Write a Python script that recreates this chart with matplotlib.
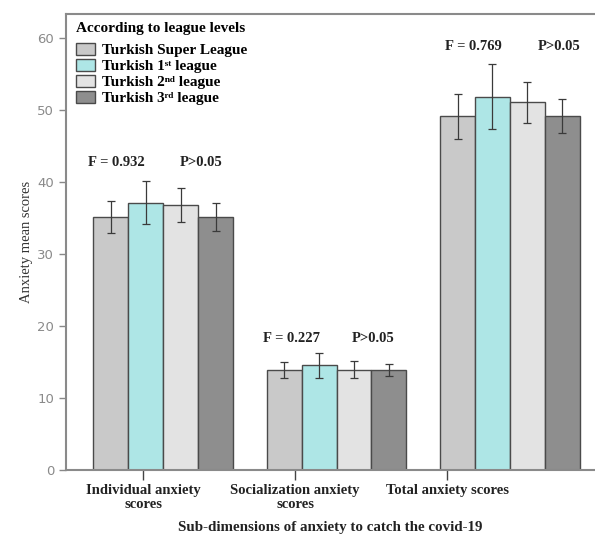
import matplotlib
matplotlib.use("Agg")
import matplotlib.pyplot as plt
import numpy as np

categories = ["Individual anxiety\nscores", "Socialization anxiety\nscores", "Total anxiety scores"]
series_names = ["Turkish Super League", "Turkish 1ˢᵗ league",
                "Turkish 2ⁿᵈ league", "Turkish 3ʳᵈ league"]
means = {
    "super": [35.1, 13.9, 49.1],
    "first": [37.1, 14.5, 51.8],
    "second": [36.8, 13.9, 51.0],
    "third": [35.1, 13.9, 49.1],
}
errors = {
    "super": [2.2, 1.1, 3.1],
    "first": [3.0, 1.7, 4.5],
    "second": [2.4, 1.2, 2.9],
    "third": [1.9, 0.8, 2.4],
}
f_values = ["0.932", "0.227", "0.769"]
p_texts = ["P>0.05", "P>0.05", "P>0.05"]
y_ticks = [0, 10, 20, 30, 40, 50, 60]

# layout (positions of labels relative to the groups, as in the original)
tick_shift = [-0.115, -0.239, -0.363]
f_shift = [-0.432, -0.424, -0.375]
p_shift = [0.098, 0.089, 0.161]
text_gap = [2.6, 2.0, 2.5]

serif = ["Liberation Serif", "DejaVu Serif"]
colors = ["#c9c9c9", "#aee6e6", "#e3e3e3", "#8e8e8e"]
keys = ["super", "first", "second", "third"]

fig = plt.figure(figsize=(5.95, 5.34), dpi=100)
ax = fig.add_axes([0.111, 0.12, 0.889, 0.854])

x = np.arange(len(categories))
w = 0.2017
offsets = [-1.5, -0.5, 0.5, 1.5]
handles = []
for k, off, c, name in zip(keys, offsets, colors, series_names):
    b = ax.bar(x + off * w, means[k], width=w, color=c, edgecolor="#4a4a4a",
               linewidth=1.0, label=name, zorder=2)
    ax.errorbar(x + off * w, means[k], yerr=errors[k], fmt="none",
                ecolor="#3a3a3a", elinewidth=0.9, capsize=3, capthick=0.9, zorder=3)
    handles.append(b)

ax.set_xlim(-0.559, 2.49)
ax.set_ylim(0, 63.3)
ax.set_yticks(y_ticks)
ax.tick_params(axis="y", colors="#888888", labelsize=9.5, length=5, width=1,
               labelcolor="#8a8a8a")

ax.set_xticks(x + np.array(tick_shift))
ax.set_xticklabels(categories, fontfamily=serif, fontweight="bold",
                   fontsize=10.5, color="#222222", linespacing=1.1)
ax.tick_params(axis="x", length=7, width=1, colors="#444444", labelcolor="#222222", pad=3)

for s in ["left", "top", "bottom"]:
    ax.spines[s].set_color("#8a8a8a")
    ax.spines[s].set_linewidth(1.5)
ax.spines["right"].set_visible(False)

ax.set_ylabel("Anxiety mean scores", fontfamily=serif, fontsize=10.5,
              color="#333333", labelpad=3)
ax.set_xlabel("Sub-dimensions of anxiety to catch the covid-19", fontfamily=serif,
              fontweight="bold", fontsize=10.8, color="#222222", labelpad=7)

for i in range(len(categories)):
    top = max(means[k][i] + errors[k][i] for k in keys)
    ax.text(x[i] + f_shift[i], top + text_gap[i], "F = " + f_values[i], fontfamily=serif,
            fontweight="bold", fontsize=10.5, color="#222222", ha="left", va="center")
    ax.text(x[i] + p_shift[i], top + text_gap[i], p_texts[i], fontfamily=serif,
            fontweight="bold", fontsize=10.5, color="#222222", ha="left", va="center")

leg = ax.legend(handles=handles, loc="upper left", title="According to league levels",
                frameon=False, prop={"family": serif, "weight": "bold", "size": 11},
                handlelength=1.2, handleheight=0.85, handletextpad=0.5, labelspacing=0.1,
                borderaxespad=0.1, bbox_to_anchor=(0.005, 1.0))
leg.get_title().set_fontfamily(serif)
leg.get_title().set_fontweight("bold")
leg.get_title().set_fontsize(11)
leg._legend_box.align = "left"
leg._legend_box.sep = 6

fig.savefig("out.png", dpi=100)
